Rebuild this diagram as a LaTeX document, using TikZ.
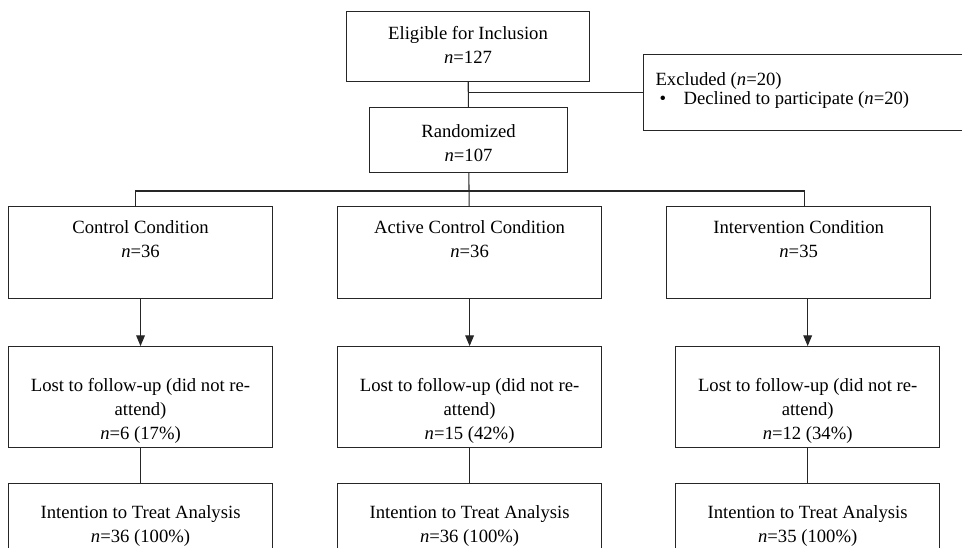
\documentclass[tikz,border=0pt]{standalone}
\usepackage{fontspec}
\setmainfont{Liberation Serif}
\usetikzlibrary{arrows.meta, positioning}
% width, height, top gap, lines
\newcommand{\boxlines}[4]{\parbox[c][#2][t]{#1}{\vspace*{#3}\centering\strut#4\par}}

\begin{document}
\begin{tikzpicture}[x=0.75pt, y=-0.75pt, font=\fontsize{14}{18}\selectfont,
        box/.style={draw=black!85, line width=0.8pt, inner sep=0pt, anchor=north west},
        link/.style={draw=black!85, line width=0.8pt},
        arr/.style={-{Triangle[width=6.5pt, length=8pt]}}]
  \useasboundingbox (0,0) rectangle (962,547);
  \node[box] (elig) at (346,11)
        {\boxlines{182.25pt}{52.5pt}{8.4pt}{Eligible for Inclusion\\\textit{n}=127}};
  \node[box] (excl) at (643,54)
        {\parbox[c][57pt][t]{242.25pt}{\fontsize{14}{14.25}\selectfont\vspace*{13.3pt}%
          \leftskip=9pt\strut Excluded (\textit{n}=20)\\
          \makebox[21pt][l]{\hspace*{3pt}\textbullet}Declined to participate (\textit{n}=20)\par}};
  \node[box] (rand) at (369,107)
        {\boxlines{148.5pt}{48.75pt}{9.9pt}{Randomized\\\textit{n}=107}};
  % conditions
  \node[box] (ctrl) at (8,206)
        {\boxlines{198pt}{69pt}{7.65pt}{Control Condition\\\textit{n}=36}};
  \node[box, right=48pt of ctrl] (active)
        {\boxlines{198pt}{69pt}{7.65pt}{Active Control Condition\\\textit{n}=36}};
  \node[box, right=48pt of active] (interv)
        {\boxlines{198pt}{69pt}{7.65pt}{Intervention Condition\\\textit{n}=35}};
  % follow-up
  \node[box, below=35.25pt of ctrl] (lostc)
        {\boxlines{198pt}{75.75pt}{21.15pt}{Lost to follow-up (did not re-\\attend)\\\textit{n}=6 (17\%)}};
  \node[box, below=35.25pt of active] (losta)
        {\boxlines{198pt}{75.75pt}{21.15pt}{Lost to follow-up (did not re-\\attend)\\\textit{n}=15 (42\%)}};
  \node[box, below=35.25pt of interv, xshift=6.75pt] (lostr)
        {\boxlines{198pt}{75.75pt}{21.15pt}{Lost to follow-up (did not re-\\attend)\\\textit{n}=12 (34\%)}};
  % analysis
  \node[box, below=26.25pt of lostc] (ittc)
        {\boxlines{198pt}{67.5pt}{13.65pt}{Intention to Treat Analysis\\\textit{n}=36 (100\%)}};
  \node[box, below=26.25pt of losta] (itta)
        {\boxlines{198pt}{67.5pt}{13.65pt}{Intention to Treat Analysis\\\textit{n}=36 (100\%)}};
  \node[box, below=26.25pt of lostr] (ittr)
        {\boxlines{198pt}{67.5pt}{13.65pt}{Intention to Treat Analysis\\\textit{n}=35 (100\%)}};
  \draw[link] (elig) -- (rand);
  \draw[link] (excl.west) -- (excl.west -| elig.south);
  \draw[link] (rand) -- (active);
  \draw[link] ([xshift=-3.75pt]ctrl.north) -- ++(0,-15) -| ([xshift=4.5pt]interv.north);
  \draw[link, arr] (ctrl) -- (lostc);
  \draw[link, arr] (active) -- (losta);
  \draw[link, arr] (interv.south -| lostr.north) -- (lostr.north);
  \draw[link] (lostc) -- (ittc);
  \draw[link] (losta) -- (itta);
  \draw[link] (lostr) -- (ittr);
\end{tikzpicture}
\end{document}
